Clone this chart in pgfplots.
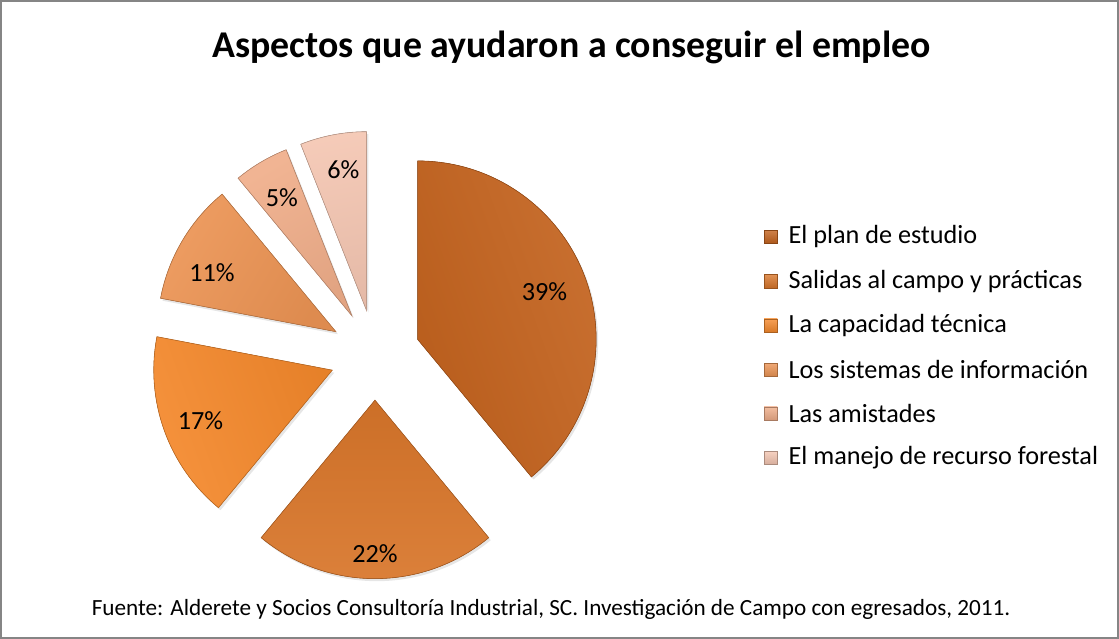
\documentclass[border=0pt]{standalone}
\usepackage{pgfplots}
\pgfplotsset{compat=1.18}
\usepackage{fontspec}
\setmainfont{Carlito}
\usetikzlibrary{shadows}
\definecolor{cA}{HTML}{C4631E}
\definecolor{cB}{HTML}{D9762A}
\definecolor{cC}{HTML}{F5892C}
\definecolor{cD}{HTML}{EC9454}
\definecolor{cE}{HTML}{F0AE8A}
\definecolor{cF}{HTML}{F4C6B2}
\begin{document}
\begin{tikzpicture}
\begin{axis}[width=1119bp,height=639bp,scale only axis,
  xmin=0,xmax=1119,ymin=0,ymax=639,hide axis,clip=false]
% border
\draw[draw=black!48,line width=1.6bp] (axis cs:9,635) rectangle (axis cs:1117,3);
% title
\node[font=\fontsize{37.5bp}{42bp}\selectfont\bfseries] at (axis cs:575,589) {Aspectos que ayudaron a conseguir el empleo};
% footnote
\node[anchor=west,inner sep=0pt,font=\fontsize{23bp}{27bp}\selectfont] at (axis cs:99,31) {Fuente: Alderete y Socios Consultoría Industrial, SC. Investigación de Campo con egresados, 2011.};
% pie: values (percent), colour, label radius fraction, label angle offset
\pgfplotsextra{%
  \gdef\angA{90}%
  \foreach \v/\col/\lf/\lo in {39/cA/0.76/1, 22/cB/0.86/0, 17/cC/0.79/1, 11/cD/0.77/5, 5/cE/0.77/0, 6/cF/0.80/-1.5} {%
    \pgfmathsetmacro\angB{\angA-3.6*\v}%
    \pgfmathsetmacro\mid{(\angA+\angB)/2}%
    \path (axis cs:380,284) ++(\mid:45bp) coordinate (apex);
    \fill[drop shadow={opacity=0.2,shadow xshift=2bp,shadow yshift=-2.5bp},
          top color=\col!92!white, bottom color=\col!94!black, shading angle=\mid-90]
      (apex) -- ++(\angA:177bp) arc[start angle=\angA, end angle=\angB, radius=177bp] -- cycle;
    \draw[\col!78!black,line width=0.6bp]
      (apex) -- ++(\angA:177bp) arc[start angle=\angA, end angle=\angB, radius=177bp] -- cycle;
    \pgfmathsetmacro\la{\mid+\lo}%
    \pgfmathsetmacro\lr{\lf*177}%
    \path (apex) ++(\la:\lr bp) node[font=\fontsize{26bp}{30bp}\selectfont] {\v\%};
    \xdef\angA{\angB}%
  }%
}
% legend
\pgfplotsextra{%
  \foreach \y/\col/\txt in {401/cA/El plan de estudio, 357/cB/Salidas al campo y prácticas, 313/cC/La capacidad técnica, 269/cD/Los sistemas de información, 226/cE/Las amistades, 182/cF/El manejo de recurso forestal} {%
    \shade[top color=\col!80!white,bottom color=\col!88!black,draw=\col!70!black,line width=0.4bp]
      (axis cs:766,\y-6.5) rectangle (axis cs:779,\y+6.5);
    \node[anchor=west,inner sep=0pt,font=\fontsize{26bp}{30bp}\selectfont] at (axis cs:790,\y) {\txt};
  }%
}
\end{axis}
\end{tikzpicture}
\end{document}
